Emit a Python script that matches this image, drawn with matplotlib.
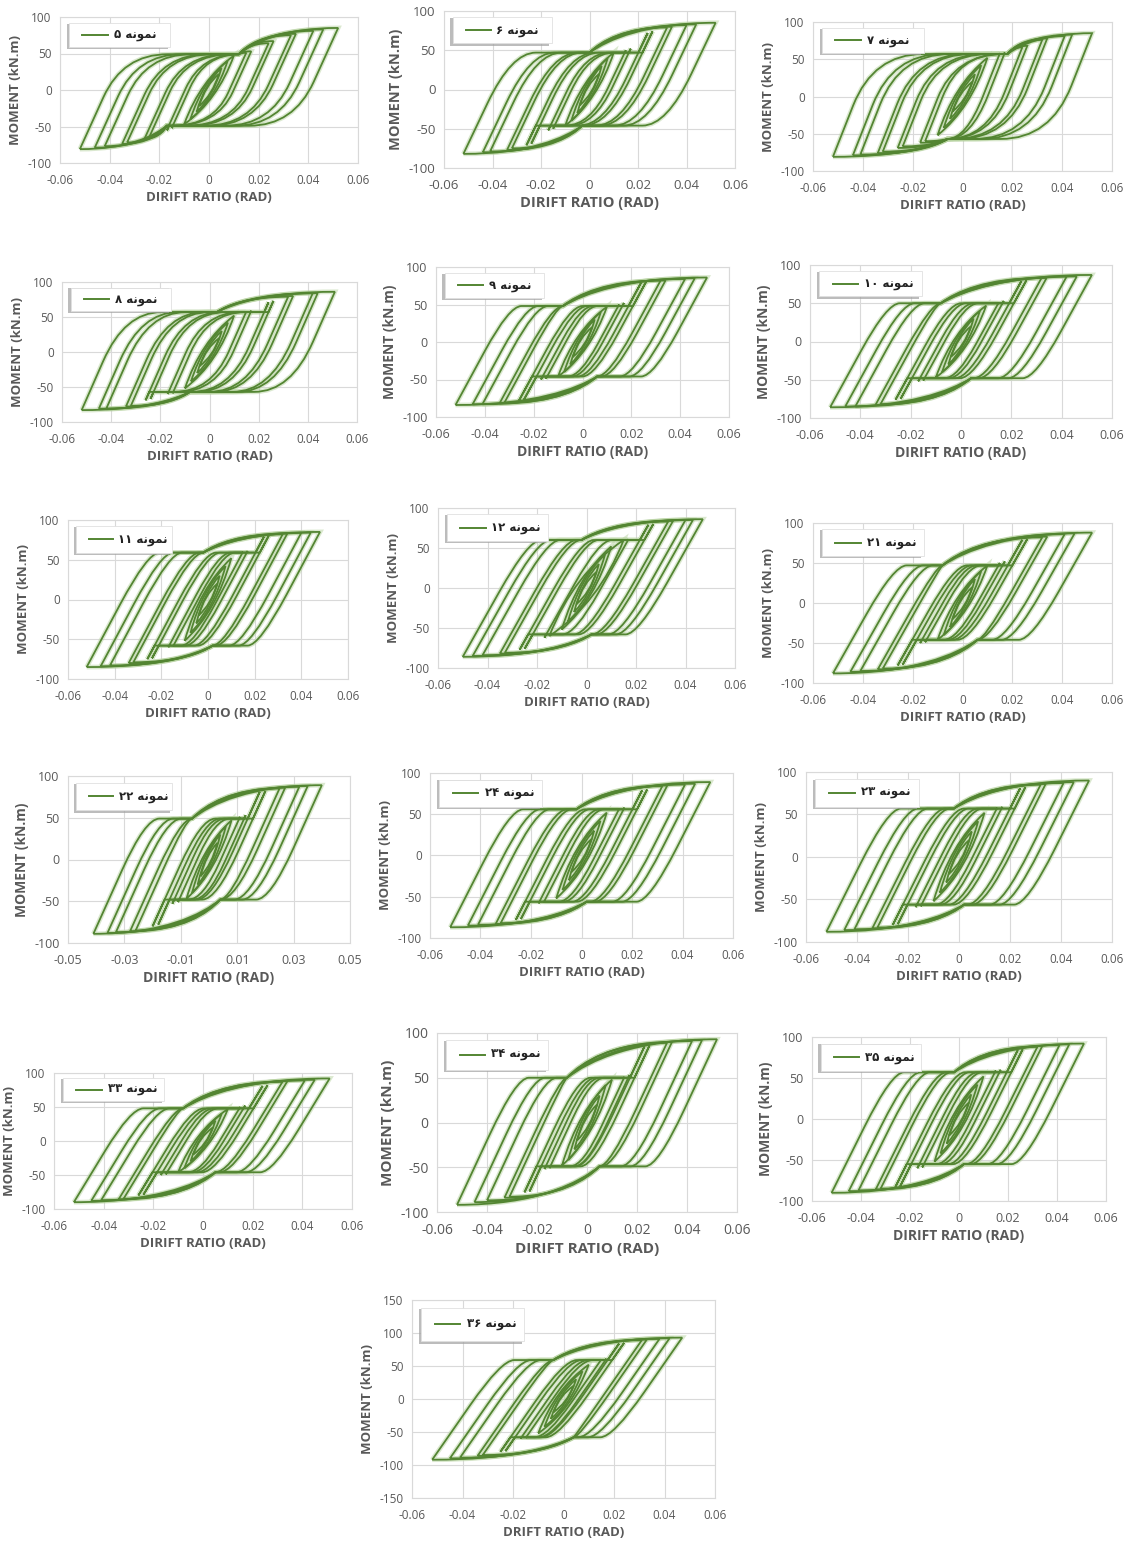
import matplotlib
matplotlib.use("Agg")
import matplotlib.pyplot as plt
from matplotlib.path import Path
from matplotlib.patches import PathPatch, Rectangle
from matplotlib.lines import Line2D

plt.rcParams["font.family"] = ["Open Sans", "DejaVu Sans"]

# ---- data ----------------------------------------------------------------
SPECIMENS = ["5", "6", "7", "8", "9", "10", "11", "12", "21", "22", "24", "23", "33", "34", "35", "36"]

# peak drift of each loop (rad), positive and negative side (two cycles per level)
AMP_POS = [
    [0.004, 0.005, 0.0075, 0.01, 0.015, 0.017, 0.024, 0.026, 0.033, 0.035, 0.042, 0.046, 0.052],
    [0.004, 0.005, 0.0075, 0.01, 0.015, 0.017, 0.024, 0.026, 0.032, 0.034, 0.040, 0.044, 0.052],
    [0.004, 0.005, 0.0075, 0.01, 0.015, 0.017, 0.024, 0.026, 0.032, 0.034, 0.041, 0.044, 0.052],
    [0.004, 0.005, 0.0075, 0.01, 0.015, 0.017, 0.024, 0.026, 0.032, 0.034, 0.042, 0.044, 0.051],
    [0.004, 0.005, 0.0075, 0.01, 0.015, 0.017, 0.024, 0.026, 0.032, 0.034, 0.042, 0.046, 0.051],
    [0.004, 0.005, 0.0075, 0.01, 0.015, 0.017, 0.024, 0.026, 0.032, 0.034, 0.042, 0.046, 0.052],
    [0.004, 0.005, 0.0075, 0.01, 0.015, 0.017, 0.024, 0.026, 0.032, 0.034, 0.040, 0.044, 0.048],
    [0.004, 0.005, 0.0075, 0.01, 0.015, 0.017, 0.025, 0.027, 0.033, 0.035, 0.040, 0.043, 0.047],
    [0.004, 0.005, 0.0075, 0.01, 0.015, 0.017, 0.024, 0.026, 0.032, 0.034, 0.041, 0.045, 0.052],
    [0.003, 0.004, 0.006, 0.008, 0.011, 0.013, 0.018, 0.020, 0.025, 0.027, 0.032, 0.035, 0.040],
    [0.004, 0.005, 0.0075, 0.01, 0.015, 0.017, 0.024, 0.026, 0.032, 0.034, 0.041, 0.045, 0.051],
    [0.004, 0.005, 0.0075, 0.01, 0.015, 0.017, 0.024, 0.026, 0.032, 0.034, 0.041, 0.045, 0.051],
    [0.004, 0.005, 0.0075, 0.01, 0.015, 0.017, 0.024, 0.026, 0.032, 0.034, 0.041, 0.045, 0.051],
    [0.004, 0.005, 0.0075, 0.01, 0.015, 0.017, 0.023, 0.025, 0.032, 0.034, 0.042, 0.046, 0.052],
    [0.004, 0.005, 0.0075, 0.01, 0.015, 0.017, 0.024, 0.026, 0.032, 0.034, 0.041, 0.045, 0.051],
    [0.004, 0.005, 0.0075, 0.01, 0.015, 0.017, 0.022, 0.024, 0.031, 0.033, 0.038, 0.042, 0.047],
]
AMP_NEG = [
    [0.004, 0.005, 0.0075, 0.01, 0.015, 0.017, 0.024, 0.026, 0.033, 0.035, 0.042, 0.046, 0.052],
    [0.004, 0.005, 0.0075, 0.01, 0.015, 0.017, 0.024, 0.026, 0.032, 0.034, 0.041, 0.044, 0.052],
    [0.004, 0.005, 0.0075, 0.01, 0.015, 0.017, 0.024, 0.026, 0.032, 0.034, 0.041, 0.044, 0.052],
    [0.004, 0.005, 0.0075, 0.01, 0.015, 0.017, 0.024, 0.026, 0.032, 0.034, 0.042, 0.045, 0.052],
    [0.004, 0.005, 0.0075, 0.01, 0.015, 0.017, 0.024, 0.026, 0.032, 0.034, 0.041, 0.045, 0.052],
    [0.004, 0.005, 0.0075, 0.01, 0.015, 0.017, 0.024, 0.026, 0.032, 0.034, 0.042, 0.046, 0.052],
    [0.004, 0.005, 0.0075, 0.01, 0.015, 0.017, 0.024, 0.026, 0.032, 0.034, 0.042, 0.046, 0.052],
    [0.004, 0.005, 0.0075, 0.01, 0.015, 0.017, 0.025, 0.027, 0.033, 0.035, 0.042, 0.046, 0.050],
    [0.004, 0.005, 0.0075, 0.01, 0.015, 0.017, 0.024, 0.026, 0.032, 0.034, 0.041, 0.045, 0.052],
    [0.003, 0.004, 0.006, 0.008, 0.011, 0.013, 0.018, 0.020, 0.026, 0.028, 0.033, 0.036, 0.041],
    [0.004, 0.005, 0.0075, 0.01, 0.015, 0.017, 0.024, 0.026, 0.032, 0.034, 0.041, 0.045, 0.052],
    [0.004, 0.005, 0.0075, 0.01, 0.015, 0.017, 0.024, 0.026, 0.032, 0.034, 0.041, 0.045, 0.052],
    [0.004, 0.005, 0.0075, 0.01, 0.015, 0.017, 0.024, 0.026, 0.032, 0.034, 0.041, 0.045, 0.052],
    [0.004, 0.005, 0.0075, 0.01, 0.015, 0.017, 0.023, 0.025, 0.031, 0.033, 0.040, 0.045, 0.052],
    [0.004, 0.005, 0.0075, 0.01, 0.015, 0.017, 0.024, 0.026, 0.032, 0.034, 0.041, 0.045, 0.052],
    [0.004, 0.005, 0.0075, 0.01, 0.015, 0.017, 0.023, 0.025, 0.032, 0.034, 0.041, 0.045, 0.052],
]
# moment at the peak drift of each loop (kN.m)
PEAK_POS = [
    [22, 30, 40, 47, 51, 53, 64, 67, 75, 77, 81, 83, 85],
    [20, 30, 40, 47, 50, 52, 72, 74, 79, 80, 82, 83, 85],
    [20, 30, 42, 52, 58, 59, 66, 68, 76, 78, 81, 83, 85],
    [20, 30, 42, 52, 58, 59, 71, 73, 79, 80, 84, 84, 86],
    [20, 30, 40, 47, 50, 52, 79, 80, 82, 82, 84, 85, 86],
    [20, 30, 40, 47, 51, 53, 79, 80, 83, 83, 85, 85, 87],
    [20, 30, 42, 52, 60, 61, 79, 80, 82, 83, 84, 84, 85],
    [20, 30, 42, 52, 60, 61, 79, 80, 83, 84, 85, 85, 86],
    [20, 30, 40, 47, 50, 52, 79, 80, 82, 83, 86, 87, 88],
    [20, 30, 40, 47, 51, 53, 81, 82, 85, 86, 87, 88, 89],
    [20, 30, 42, 52, 57, 58, 79, 80, 84, 85, 86, 87, 89],
    [20, 30, 42, 52, 58, 59, 81, 82, 85, 86, 87, 88, 90],
    [20, 30, 40, 47, 50, 52, 81, 82, 87, 88, 89, 90, 92],
    [20, 30, 42, 48, 51, 53, 85, 86, 89, 90, 91, 92, 93],
    [20, 30, 42, 52, 59, 60, 84, 85, 88, 89, 90, 91, 92],
    [20, 30, 42, 52, 60, 61, 84, 85, 89, 90, 91, 92, 93],
]
PEAK_NEG = [
    [-22, -30, -40, -47, -52, -55, -64, -67, -72, -74, -77, -79, -81],
    [-20, -30, -40, -46, -50, -52, -69, -71, -75, -77, -79, -80, -82],
    [-20, -30, -42, -52, -60, -62, -67, -69, -74, -76, -78, -79, -81],
    [-20, -30, -42, -52, -59, -60, -67, -69, -77, -78, -81, -81, -83],
    [-20, -30, -40, -46, -49, -50, -77, -78, -81, -82, -83, -83, -84],
    [-20, -30, -40, -47, -51, -52, -75, -76, -82, -83, -85, -85, -86],
    [-20, -30, -42, -52, -59, -60, -74, -75, -79, -80, -83, -84, -85],
    [-20, -30, -42, -52, -60, -62, -76, -77, -81, -82, -84, -85, -86],
    [-20, -30, -40, -46, -49, -50, -77, -78, -82, -83, -85, -86, -88],
    [-20, -30, -40, -47, -51, -53, -78, -80, -85, -86, -87, -88, -89],
    [-20, -30, -42, -52, -57, -58, -77, -78, -82, -83, -84, -85, -87],
    [-20, -30, -42, -52, -58, -59, -79, -80, -83, -84, -85, -86, -88],
    [-20, -30, -40, -46, -49, -50, -79, -80, -85, -86, -87, -88, -90],
    [-20, -30, -42, -48, -51, -52, -77, -78, -83, -84, -87, -89, -92],
    [-20, -30, -42, -52, -59, -60, -82, -83, -85, -86, -87, -88, -90],
    [-20, -30, -42, -52, -59, -60, -79, -80, -85, -86, -89, -90, -92],
]
# slip plateau moments (kN.m)
PLATEAU_POS = [49, 47, 57, 57, 48, 50, 59, 60, 47, 49, 56, 57, 48, 50, 57, 59]
PLATEAU_NEG = [-49, -46, -57, -57, -46, -48, -58, -58, -46, -48, -56, -56, -46, -49, -55, -58]
# drift where the plateau of the large loops ends
SLIP_END_POS = [0.012, 0.0, 0.018, 0.003, -0.008, -0.008, -0.002, -0.002,
                -0.008, -0.006, -0.002, -0.002, -0.008, -0.008, -0.002, -0.004]
SLIP_END_NEG = [-0.017, -0.003, -0.006, -0.008, 0.006, 0.004, 0.002, 0.002,
                0.006, 0.004, 0.002, 0.002, 0.005, 0.005, 0.002, 0.004]
# loops up to this drift slip right up to the peak (sharp step)
STEP_AMP = [0, 0.026, 0, 0.026, 0.026, 0.026, 0.026, 0.027, 0.026, 0.02, 0.026, 0.026, 0.026, 0.026, 0.026, 0.025]
# unloading / reloading slope (kN.m per rad)
ELASTIC_SLOPE = [7500, 6500, 8500, 8000, 6000, 6000, 5500, 5500, 5500, 7500, 6000, 6000, 6000, 6000, 6000, 5500]

X_TICKS = [-0.06, -0.04, -0.02, 0, 0.02, 0.04, 0.06]
X_TICKS_22 = [-0.05, -0.03, -0.01, 0.01, 0.03, 0.05]
Y_TICKS = [-100, -50, 0, 50, 100]
Y_TICKS_36 = [-150, -100, -50, 0, 50, 100, 150]

# ---- layout (pixel boxes of each plot area: left, right, top, bottom) -----
FIG_W, FIG_H = 1131, 1543
PANEL_BOX = [
    (60, 358, 17, 163), (444, 735, 11, 168), (813, 1112, 22, 171),
    (62, 357, 282, 422), (436, 729, 267, 417), (810, 1112, 265, 418),
    (68, 348, 520, 679), (438, 735, 508, 668), (813, 1112, 523, 683),
    (68, 350, 776, 943), (430, 733, 773, 938), (806, 1112, 772, 942),
    (54, 352, 1073, 1209), (437, 737, 1033, 1212), (812, 1106, 1037, 1201),
    (412, 715, 1300, 1498),
]
SOFT = {"5": (0.45, 0.018), "6": (0.5, 0.01), "7": (0.5, 0.02), "8": (0.5, 0.015)}
TICK_SIZE = {"6": 9.5, "9": 9, "10": 9, "22": 9, "34": 10, "35": 9}
GREEN = "#538532"
GLOW = "#b7d3a0"
GRID = "#d9d9d9"
TEXT = "#595959"

NOMUNE = "\ufeea\ufee7\ufeee\ufee4\ufee7"  # "نمونه" shaped, in visual order
FA_DIGITS = str.maketrans("0123456789", "۰۱۲۳۴۵۶۷۸۹")


def loop_path(ap, an, mp, mn, qp, qn, k, rr, rp, xsp, xsn, step):
    v = [(-an, mn)]
    c = [Path.MOVETO]
    if mp <= qp + 0.5 or mn >= qn - 0.5:
        # small elastic loop: thin lens
        xm, ym, h = (ap - an) / 2, (mp + mn) / 2, mp - mn
        v += [(xm - 0.35 * (ap + an) / 2, ym + 0.15 * h), (ap, mp),
              (xm + 0.35 * (ap + an) / 2, ym - 0.15 * h), (-an, mn)]
        c += [Path.CURVE3] * 4
        return Path(v, c)
    # reloading towards positive side
    h = qp - mn
    x1 = -an + h / k
    x2 = ap - (mp - qp) / k if step else min(xsp, ap - (mp - qp) / k)
    x2 = max(x2, x1)
    y0 = qp - rr * h
    v += [(-an + (y0 - mn) / k, y0), (x1, qp), (min(x1 + rp, x2), qp), (x2, qp)]
    c += [Path.LINETO, Path.CURVE3, Path.CURVE3, Path.LINETO]
    if step:
        v += [(ap, mp)]
        c += [Path.LINETO]
    else:
        d, hh = ap - x2, mp - qp
        v += [(x2 + 0.15 * d, qp + 0.45 * hh), (x2 + 0.45 * d, mp), (ap, mp)]
        c += [Path.CURVE4] * 3
    # unloading towards negative side
    h = mp - qn
    x1 = ap - h / k
    x2 = -an + (qn - mn) / k if step else max(xsn, -an + (qn - mn) / k)
    x2 = min(x2, x1)
    y0 = qn + rr * h
    v += [(ap - (mp - y0) / k, y0), (x1, qn), (max(x1 - rp, x2), qn), (x2, qn)]
    c += [Path.LINETO, Path.CURVE3, Path.CURVE3, Path.LINETO]
    if step:
        v += [(-an, mn)]
        c += [Path.LINETO]
    else:
        d, hh = x2 + an, qn - mn
        v += [(x2 - 0.15 * d, qn - 0.45 * hh), (x2 - 0.45 * d, mn), (-an, mn)]
        c += [Path.CURVE4] * 3
    return Path(v, c)


def draw_legend(ax, name):
    ax.add_patch(Rectangle((0.022, 0.78), 0.34, 0.175, transform=ax.transAxes,
                           facecolor="#a0a0a0", edgecolor="none", alpha=0.7, zorder=5))
    ax.add_patch(Rectangle((0.03, 0.795), 0.34, 0.165, transform=ax.transAxes,
                           facecolor="white", edgecolor="#e0e0e0", lw=0.6, zorder=6))
    ax.add_line(Line2D([0.075, 0.16], [0.878, 0.878], transform=ax.transAxes,
                       color=GREEN, lw=1.4, zorder=7))
    ax.text(0.18, 0.878, name.translate(FA_DIGITS) + " " + NOMUNE, transform=ax.transAxes,
            ha="left", va="center", fontsize=8.5, family="DejaVu Sans", weight="bold",
            color="#222222", zorder=7)


fig = plt.figure(figsize=(FIG_W / 100, FIG_H / 100), dpi=100)

for i, name in enumerate(SPECIMENS):
    xl, xr, yt, yb = PANEL_BOX[i]
    ax = fig.add_axes([xl / FIG_W, 1 - yb / FIG_H, (xr - xl) / FIG_W, (yb - yt) / FIG_H])
    xt = X_TICKS_22 if name == "22" else X_TICKS
    yt_ = Y_TICKS_36 if name == "36" else Y_TICKS
    ax.set_xlim(xt[0], xt[-1])
    ax.set_ylim(yt_[0], yt_[-1])
    ax.set_xticks(xt)
    ax.set_xticklabels(["0" if t == 0 else f"{t:g}" for t in xt])
    ax.set_yticks(yt_)
    ax.set_yticklabels([str(t) for t in yt_])
    ts = TICK_SIZE.get(name, 8.5)
    ax.tick_params(length=0, labelsize=ts, colors=TEXT)
    ax.tick_params(axis="x", pad=8)
    ax.tick_params(axis="y", pad=6)
    ax.grid(True, color=GRID, lw=0.8, zorder=0)
    ax.set_axisbelow(True)
    for s in ax.spines.values():
        s.set_color(GRID)
        s.set_linewidth(0.8)
    ax.set_xlabel("DRIFT RATIO (RAD)" if name == "36" else "DIRIFT RATIO (RAD)",
                  fontsize=ts + 1, fontweight="bold", color=TEXT, labelpad=3)
    ax.set_ylabel("MOMENT (kN.m)", fontsize=ts + 1, fontweight="bold", color=TEXT, labelpad=4)

    rr, rp = SOFT.get(name, (0.45, 0.005))
    for ap, an, mp, mn in zip(AMP_POS[i], AMP_NEG[i], PEAK_POS[i], PEAK_NEG[i]):
        step = ap <= STEP_AMP[i] + 1e-9
        p = loop_path(ap, an, mp, mn, PLATEAU_POS[i], PLATEAU_NEG[i], ELASTIC_SLOPE[i],
                      rr, rp, SLIP_END_POS[i], SLIP_END_NEG[i], step)
        ax.add_patch(PathPatch(p, fill=False, edgecolor=GLOW, lw=3.4, alpha=0.5, zorder=2))
        ax.add_patch(PathPatch(p, fill=False, edgecolor=GREEN, lw=1.3, zorder=3))

    draw_legend(ax, name)

fig.savefig("out.png", dpi=100)
